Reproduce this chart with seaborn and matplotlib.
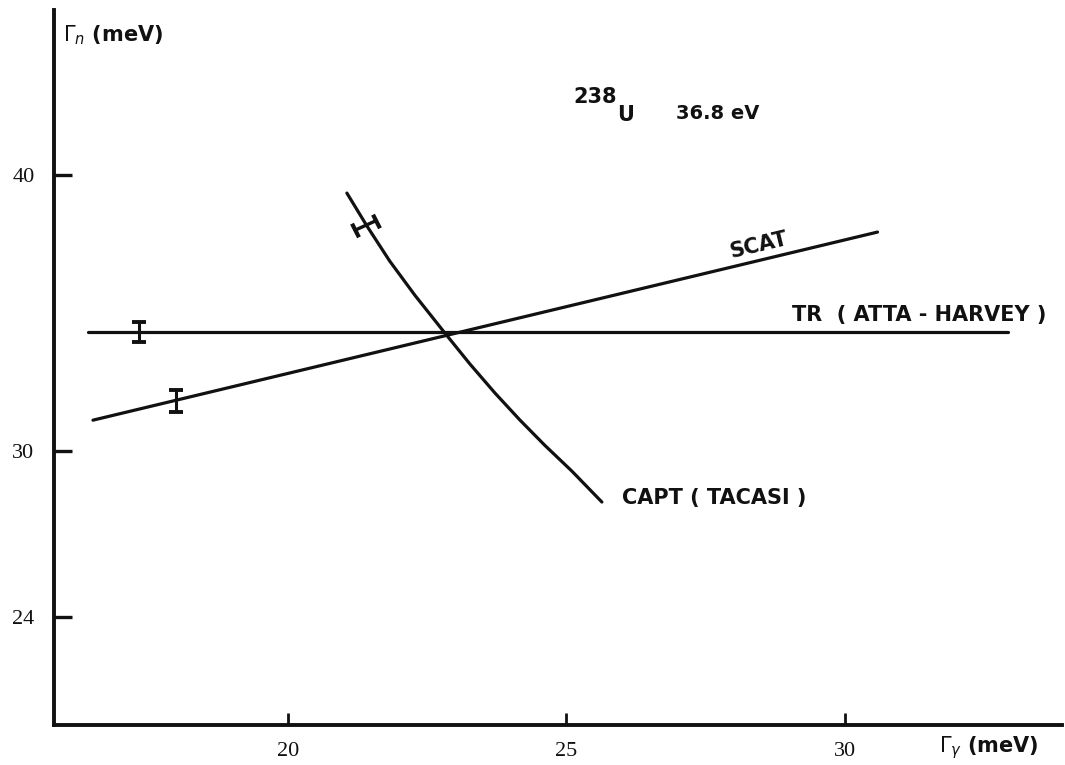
import matplotlib
matplotlib.use("Agg")
import matplotlib.pyplot as plt
import seaborn as sns
import pandas as pd

# Resonance parameters of the 36.8 eV level of U-238
tr_x = [16.41, 32.93]
tr_y = [34.30, 34.30]

scat_x = [16.50, 30.59]
scat_y = [31.12, 37.92]

capt_x = [21.06, 21.42, 21.83, 22.28, 22.82, 23.27, 23.72, 24.17, 24.61, 25.10, 25.64]
capt_y = [39.33, 38.14, 36.87, 35.64, 34.27, 33.15, 32.10, 31.12, 30.22, 29.28, 28.16]

# measured points with their error bars
tr_pt_x, tr_pt_y, tr_pt_err = 17.33, 34.30, 0.37
scat_pt_x, scat_pt_y, scat_pt_err = 17.99, 31.82, 0.40
capt_err_x = [21.21, 21.58]
capt_err_y = [37.99, 38.33]

x_ticks = [20, 25, 30]
y_ticks = [24, 30, 40]

sns.set_theme(style="white")
plt.rcParams["font.family"] = ["DejaVu Sans"]

fig = plt.figure(figsize=(10.65, 7.65), dpi=100)
ax = fig.add_axes([0.0507, 0.0523, 0.9463, 0.9347])

lw = 2.3
ink = "#111111"

tr_df = pd.DataFrame({"x": tr_x, "y": tr_y})
scat_df = pd.DataFrame({"x": scat_x, "y": scat_y})
capt_df = pd.DataFrame({"x": capt_x, "y": capt_y})

sns.lineplot(data=tr_df, x="x", y="y", ax=ax, color=ink, lw=lw, sort=False)
sns.lineplot(data=scat_df, x="x", y="y", ax=ax, color=ink, lw=lw, sort=False)
sns.lineplot(data=capt_df, x="x", y="y", ax=ax, color=ink, lw=lw, sort=False)

ax.errorbar([tr_pt_x], [tr_pt_y], yerr=[tr_pt_err], fmt="none", ecolor=ink,
            elinewidth=2.2, capsize=5, capthick=2.8)
ax.errorbar([scat_pt_x], [scat_pt_y], yerr=[scat_pt_err], fmt="none", ecolor=ink,
            elinewidth=2.2, capsize=5, capthick=2.8)
ax.plot(capt_err_x, capt_err_y, color=ink, lw=2.4)
ax.plot(capt_err_x, capt_err_y, ls="none", marker=(2, 0, 27), ms=11, mew=3.0, color=ink)

ax.set_xlim(15.8, 33.9)
ax.set_ylim(20.1, 45.95)

ax.set_xticks(x_ticks)
ax.set_yticks(y_ticks)
ax.set_xticklabels([str(v) for v in x_ticks], family="Liberation Serif", fontsize=16)
ax.set_yticklabels([str(v) for v in y_ticks], family="Liberation Serif", fontsize=16)
ax.tick_params(axis="x", bottom=True, direction="in", length=9, width=2, color=ink,
               pad=12, labelcolor=ink)
ax.tick_params(axis="y", left=True, direction="in", length=13, width=2.4, color=ink,
               pad=14, labelcolor=ink)
ax.set_xlabel("")
ax.set_ylabel("")

for side in ["top", "right"]:
    ax.spines[side].set_visible(False)
for side in ["left", "bottom"]:
    ax.spines[side].set_linewidth(2.8)
    ax.spines[side].set_color(ink)

txt = dict(color=ink, fontweight="bold", fontsize=15, family="DejaVu Sans")

ax.text(15.96, 45.05, r"$\Gamma_n$ (meV)", ha="left", va="center", clip_on=False, **txt)
ax.text(31.70, 19.30, r"$\Gamma_\gamma$ (meV)", ha="left", va="center", clip_on=False, **txt)
ax.text(25.12, 42.80, "238", ha="left", va="center", **txt)
ax.text(25.92, 42.15, "U", ha="left", va="center", **txt)
ax.text(26.98, 42.22, "36.8 eV", ha="left", va="center", fontsize=14,
        **{k: v for k, v in txt.items() if k != "fontsize"})
ax.text(28.46, 37.45, "SCAT", ha="center", va="center", rotation=13.5, **txt)
ax.text(29.05, 34.92, "TR  ( ATTA - HARVEY )", ha="left", va="center", **txt)
ax.text(26.01, 28.30, "CAPT ( TACASI )", ha="left", va="center", **txt)

fig.savefig("out.png", dpi=100, facecolor="white")
